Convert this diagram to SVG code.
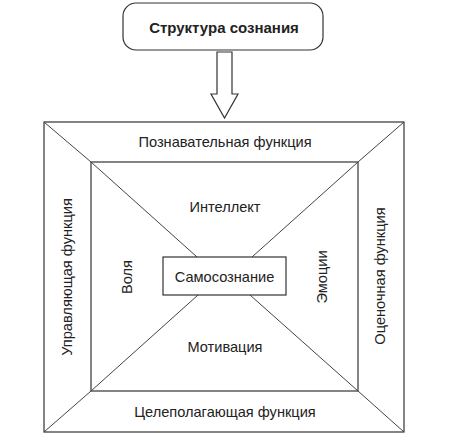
<svg xmlns="http://www.w3.org/2000/svg" width="456" height="442" viewBox="0 0 456 442">
<style>
.box{fill:#fff;stroke:#333;stroke-width:1.2}
.ln{stroke:#444;stroke-width:1;fill:none}
.t{font-family:"Liberation Sans",Arial,sans-serif;font-size:14.6px;fill:#222;text-anchor:middle;dominant-baseline:central}
.b{font-weight:bold;font-size:15px}
</style>
<rect width="456" height="442" fill="#fff"/>
<g id="outer"><rect class="box" x="44" y="122" width="360" height="310"/></g>
<g id="inner"><rect class="box" x="91" y="162" width="267" height="229"/></g>
<g id="connectors">
<line class="ln" x1="44" y1="122" x2="91" y2="162"/>
<line class="ln" x1="404" y1="122" x2="358" y2="162"/>
<line class="ln" x1="44" y1="432" x2="91" y2="391"/>
<line class="ln" x1="404" y1="432" x2="358" y2="391"/>
<line class="ln" x1="91" y1="162" x2="197" y2="257"/>
<line class="ln" x1="358" y1="162" x2="252" y2="257"/>
<line class="ln" x1="91" y1="391" x2="198" y2="295"/>
<line class="ln" x1="358" y1="391" x2="250" y2="295"/>
<polygon class="box" points="217,52 232,52 232,94 238,94 224.5,118 211,94 217,94"/>
</g>
<g id="top"><rect class="box" x="123" y="3" width="200" height="47" rx="13"/>
<text class="t b" x="224" y="27">Структура сознания</text></g>
<g id="center"><rect class="box" x="163" y="257" width="123" height="38"/>
<text class="t" x="224.5" y="277">Самосознание</text></g>
<g id="labels">
<text class="t" x="225" y="142">Познавательная функция</text>
<text class="t" x="225" y="207">Интеллект</text>
<text class="t" x="225" y="347">Мотивация</text>
<text class="t" x="225" y="412">Целеполагающая функция</text>
<text class="t" transform="translate(67,277) rotate(-90)">Управляющая функция</text>
<text class="t" transform="translate(127,277) rotate(-90)">Воля</text>
<text class="t" transform="translate(322,277) rotate(-90)">Эмоции</text>
<text class="t" transform="translate(380,276) rotate(-90)">Оценочная функция</text>
</g>
</svg>
